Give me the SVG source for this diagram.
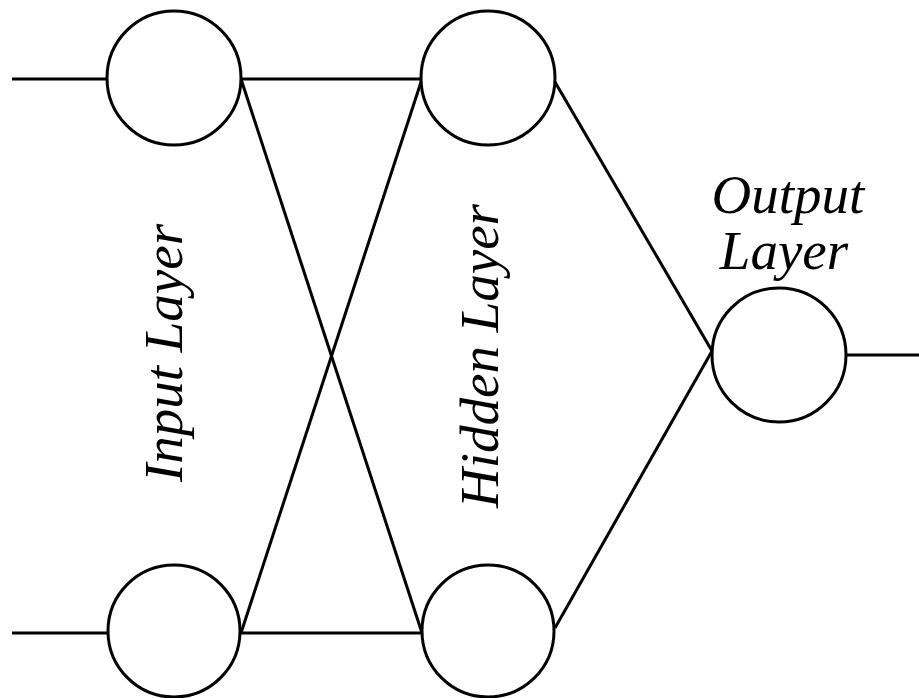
<svg xmlns="http://www.w3.org/2000/svg" width="919" height="698" viewBox="0 0 919 698">
<style>
.n{fill:#fff;stroke:#000;stroke-width:3}
.c line{stroke:#000;stroke-width:3}
</style>
<rect width="919" height="698" fill="#fff"/>
<g class="c" id="connectors">
<line x1="12" y1="79" x2="107" y2="79"/>
<line x1="241" y1="79" x2="421" y2="79"/>
<line x1="241" y1="79" x2="422" y2="633"/>
<line x1="241" y1="633" x2="422" y2="79"/>
<line x1="12" y1="633" x2="107" y2="633"/>
<line x1="241" y1="633" x2="421" y2="633"/>
<line x1="555" y1="82" x2="712" y2="351"/>
<line x1="555" y1="628" x2="712" y2="351"/>
<line x1="846" y1="355" x2="919" y2="355"/>
</g>
<g id="input1"><circle class="n" cx="174" cy="78" r="67"/></g>
<g id="input2"><circle class="n" cx="174" cy="631" r="66"/></g>
<g id="hidden1"><circle class="n" cx="488" cy="78" r="67"/></g>
<g id="hidden2"><circle class="n" cx="488" cy="631" r="66"/></g>
<g id="output"><circle class="n" cx="779" cy="355" r="67"/></g>
<g id="labels" font-family="Liberation Serif, serif" font-style="italic" font-size="55" text-anchor="middle" fill="#000">
<text transform="translate(182,353) rotate(-90)">Input Layer</text>
<text transform="translate(498,356) rotate(-90)">Hidden Layer</text>
<text x="788" y="213">Output</text>
<text x="784" y="269">Layer</text>
</g>
</svg>
